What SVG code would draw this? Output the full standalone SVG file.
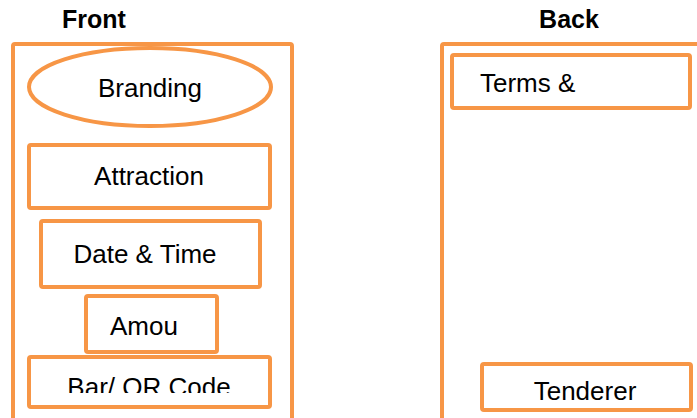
<svg xmlns="http://www.w3.org/2000/svg" width="697" height="418" viewBox="0 0 697 418">
<style>
.box{fill:none;stroke:#F79646;stroke-width:4;}
.t{font-family:"Liberation Sans",Arial,sans-serif;font-size:26px;fill:#000;text-anchor:middle;}
.h{font-family:"Liberation Sans",Arial,sans-serif;font-size:25px;font-weight:bold;fill:#000;text-anchor:middle;}
</style>
<defs>
<clipPath id="clipQR"><rect x="0" y="340" width="697" height="53"/></clipPath>
</defs>
<rect width="697" height="418" fill="#fff"/>
<g id="front">
<text class="h" x="94" y="28">Front</text>
<rect class="box" x="13" y="44" width="279" height="400" rx="2"/>
</g>
<g id="back">
<text class="h" x="569" y="28">Back</text>
<rect class="box" x="442" y="44" width="280" height="400" rx="2"/>
</g>
<g id="branding">
<ellipse class="box" cx="150" cy="87" rx="121" ry="39"/>
<text class="t" x="150" y="97">Branding</text>
</g>
<g id="attraction">
<rect class="box" x="29" y="145" width="241" height="63" rx="2"/>
<text class="t" x="149" y="185">Attraction</text>
</g>
<g id="datetime">
<rect class="box" x="41" y="221" width="219" height="66" rx="2"/>
<text class="t" x="145" y="263">Date &amp; Time</text>
</g>
<g id="amount">
<rect class="box" x="86" y="296" width="131" height="56" rx="2"/>
<text class="t" x="144" y="335">Amou</text>
</g>
<g id="qrcode">
<rect class="box" x="29" y="357" width="241" height="50" rx="2"/>
<text class="t" x="149" y="396" clip-path="url(#clipQR)">Bar/ QR Code</text>
</g>
<g id="terms">
<rect class="box" x="452" y="55" width="238" height="53" rx="2"/>
<text class="t" x="480" y="92" style="text-anchor:start">Terms &amp;</text>
</g>
<g id="tenderer">
<rect class="box" x="482" y="364" width="209" height="46" rx="2"/>
<text class="t" x="585" y="400">Tenderer</text>
</g>
<g id="connectors"></g>
</svg>
